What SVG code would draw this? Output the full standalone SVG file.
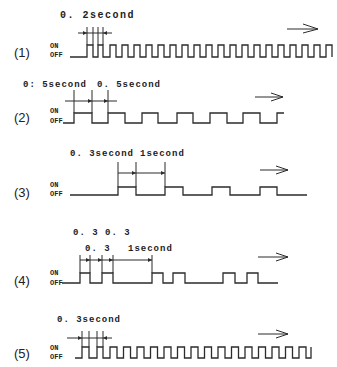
<svg xmlns="http://www.w3.org/2000/svg" width="337" height="367" viewBox="0 0 337 367">
<style>
.w{fill:none;stroke:#2b2b2b;stroke-width:1.3}
.e{fill:none;stroke:#2b2b2b;stroke-width:1}
.h{fill:#2b2b2b;stroke:none}
.t{font-family:"Liberation Mono","DejaVu Sans Mono",monospace;font-weight:bold;fill:#222;font-size:9px;letter-spacing:1px}
.n{font-family:"Liberation Sans",Arial,sans-serif;font-size:13px;fill:#222}
.o{font-family:"Liberation Mono","DejaVu Sans Mono",monospace;font-weight:bold;font-size:7px;fill:#222}
</style>
<rect width="337" height="367" fill="#fff"/>

<g id="row1">
<text class="t" x="60" y="18" style="font-size:10px;letter-spacing:1.5px">0. 2second</text>
<text class="n" x="14" y="57">(1)</text>
<text class="o" x="50" y="48">ON</text>
<text class="o" x="50" y="57">OFF</text>
<path class="w" d="M70 57H87V45H93V57H98V45H103V57H110V45H116V57H122V45H128V57H134V45H140V57H146V45H152V57H158V45H164V57H170V45H176V57H182V45H188V57H194V45H200V57H206V45H212V57H218V45H224V57H230V45H236V57H242V45H248V57H254V45H260V57H266V45H272V57H278V45H284V57H290V45H296V57H302V45H308V57H314V45H320V57H326V45H332V57"/>
<path class="e" d="M87 27V45M93 27V45M98 27V45M103 27V45M78 33H112"/>
<path class="h" d="M83 31L87 33L83 35ZM107 31L103 33L107 35Z"/>
<path class="e" d="M287 29H318M303 24L318 29L303 33"/>
</g>

<g id="row2">
<text class="t" x="23" y="87">0: 5second</text>
<text class="t" x="97" y="87">0. 5second</text>
<text class="n" x="14" y="122">(2)</text>
<text class="o" x="50" y="113">ON</text>
<text class="o" x="50" y="123">OFF</text>
<path class="w" d="M63 123H74V113H92V123H108V113H125V123H142V113H158V123H177V113H193V123H210V113H227V123H243V113H260V123H277V113H284"/>
<path class="e" d="M74 90V113M92 90V113M108 90V113M65 101H117"/>
<path class="h" d="M88 99L92 101L88 103ZM104 99L108 101L104 103Z"/>
<path class="e" d="M255 97H283M271 93L283 97L271 101"/>
</g>

<g id="row3">
<text class="t" x="70" y="156">0. 3second</text>
<text class="t" x="140" y="156">1second</text>
<text class="n" x="14" y="197">(3)</text>
<text class="o" x="50" y="187">ON</text>
<text class="o" x="50" y="196">OFF</text>
<path class="w" d="M70 195H118V187H136V195H165V187H183V195H212V187H230V195H260V187H277V195H307"/>
<path class="e" d="M118 162V187M136 162V187M165 162V187M118 173H165"/>
<path class="h" d="M132 171L136 173L132 175ZM161 171L165 173L161 175Z"/>
<path class="e" d="M260 170H288M276 166L288 170L276 174"/>
</g>

<g id="row4">
<text class="t" x="73" y="235">0. 3 0. 3</text>
<text class="t" x="85" y="251">0. 3</text>
<text class="t" x="128" y="251">1second</text>
<text class="n" x="14" y="285">(4)</text>
<text class="o" x="50" y="275">ON</text>
<text class="o" x="50" y="285">OFF</text>
<path class="w" d="M62 283H80V273H90V283H102V273H113V283H152V273H163V283H173V273H185V283H223V273H235V283H247V273H258V283H278"/>
<path class="e" d="M80 255V273M90 255V273M102 255V273M113 255V273M152 255V273M80 260H152"/>
<path class="h" d="M86 258L90 260L86 262ZM98 258L102 260L98 262ZM109 258L113 260L109 262ZM148 258L152 260L148 262Z"/>
<path class="e" d="M258 257H288M276 253L288 257L276 261"/>
</g>

<g id="row5">
<text class="t" x="57" y="322">0. 3second</text>
<text class="n" x="14" y="358">(5)</text>
<text class="o" x="50" y="350">ON</text>
<text class="o" x="50" y="359">OFF</text>
<path class="w" d="M75 358H82V347H89V358H97V347H103V358H110V347H117V358H123.5V347H130.5V358H137V347H144V358H150.5V347H157.5V358H164V347H171V358H177.5V347H184.5V358H191V347H198V358H204.5V347H211.5V358H218V347H225V358H231.5V347H238.5V358H245V347H252V358H258.5V347H265.5V358H272V347H279V358H285.5V347H292.5V358H299V347H306V358H311V347"/>
<path class="e" d="M82 331V347M89 331V347M97 331V347M103 331V347M67 338H112"/>
<path class="h" d="M78 336L82 338L78 340ZM107 336L103 338L107 340Z"/>
<path class="e" d="M258 334H288M276 330L288 334L276 338"/>
</g>
</svg>
